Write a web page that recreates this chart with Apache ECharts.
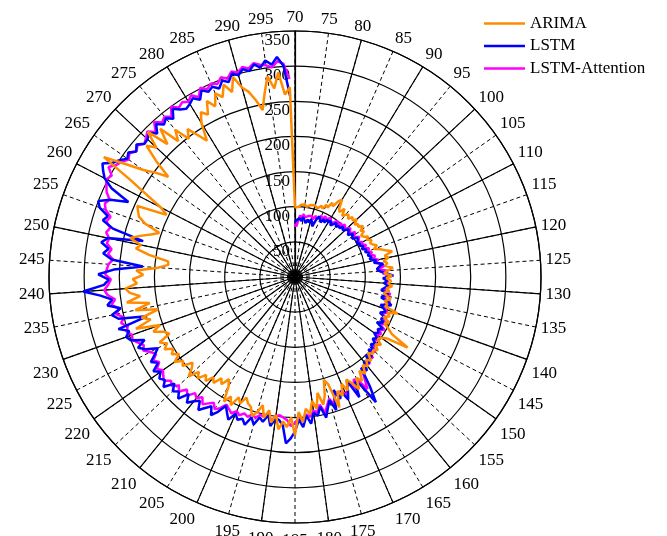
<!DOCTYPE html>
<html>
<head>
<meta charset="utf-8">
<script src="https://cdn.jsdelivr.net/npm/echarts@6/dist/echarts.min.js"></script>
<style>html,body{margin:0;padding:0;background:#fff}#c{width:667px;height:536px}</style>
</head>
<body>
<div id="c"></div>
<script>
// Angle tick labels (70 .. 295 every 5) and radius tick labels
const angleTicks = [70,75,80,85,90,95,100,105,110,115,120,125,130,135,140,145,150,155,160,165,170,175,180,185,190,195,200,205,210,215,220,225,230,235,240,245,250,255,260,265,270,275,280,285,290,295];
const radiusTicks = [50,100,150,200,250,300,350];
const seriesNames = ['ARIMA','LSTM','LSTM-Attention'];

// sample angles: 70 .. 300, one per unit
const angles = [];
for (let a = 70; a <= 300; a++) angles.push(a);

// ARIMA (70..300)
const arima = [
 99,101,100,103,102,104,101,103,105,104,
 106,103,104,108,105,112,109,118,114,124,
 129,116,112,120,110,114,117,112,118,115,
 120,113,117,115,121,114,118,111,113,119,
 115,121,117,120,125,119,128,134,143,131,
 136,128,133,129,140,132,127,138,130,137,
 133,139,131,136,128,134,140,132,137,135,
 155,141,146,138,149,143,152,160,189,158,
 150,147,156,149,157,152,156,150,161,155,
 164,158,170,162,176,168,184,171,163,178,
 166,182,173,196,160,152,174,186,168,190,
 178,196,188,207,192,225,200,214,206,218,
 198,210,193,205,188,200,207,195,192,185,
 196,189,204,193,204,182,173,185,178,190,
 184,195,188,200,192,207,196,190,204,199,
 210,198,207,201,212,205,214,196,202,216,
 204,238,214,226,200,232,210,242,222,236,
 242,225,231,216,226,195,181,182,210,230,
 224,241,228,214,203,226,238,242,246,203,
 215,240,272,321,290,264,248,230,258,282,
 270,294,262,285,255,270,248,260,245,231,
 256,270,262,280,268,285,276,292,278,298,
 280,272,258,242,265,288,270,292,260,270,
 99
];

// LSTM (70..299)
const lstm = [
 78,81,79,84,80,86,82,78,84,80,
 85,82,76,88,93,89,86,92,88,94,
 91,95,89,93,97,92,96,94,99,95,
 98,102,99,96,103,100,98,105,104,100,
 104,102,107,103,109,106,111,108,113,109,
 118,114,127,121,117,121,130,140,125,132,
 127,133,128,124,135,130,126,137,143,128,
 134,138,131,140,136,142,133,145,139,143,
 138,146,141,149,144,152,147,158,150,162,
 155,168,160,188,212,180,172,194,165,178,
 190,176,185,170,198,182,192,205,188,200,
 195,210,198,214,203,220,230,237,212,205,
 203,215,200,211,206,218,209,222,215,219,
 212,224,216,208,221,230,219,226,234,222,
 228,236,225,240,232,238,229,244,236,241,
 234,242,230,238,228,220,236,245,232,250,
 255,248,262,218,258,266,252,270,262,278,
 302,272,265,280,258,217,262,275,268,280,
 272,222,268,285,280,295,300,285,260,290,
 305,312,318,306,300,292,296,288,294,286,
 287,292,283,294,286,291,284,296,289,285,
 288,293,286,297,291,295,289,298,293,303,
 298,305,300,308,302,311,304,314,301,258
];

// LSTM-Attention (70..299)
const lstmAtt = [
 76,72,80,88,84,90,86,84,89,87,
 90,86,92,88,91,95,90,97,93,96,
 98,94,92,97,100,95,101,98,103,99,
 101,105,102,100,107,103,102,108,105,103,
 108,106,111,107,113,110,115,112,118,114,
 121,117,124,128,120,131,125,134,128,132,
 130,136,131,128,138,133,130,140,135,131,
 137,141,134,143,139,146,137,148,142,147,
 142,149,144,152,148,156,150,160,153,163,
 158,166,162,175,190,172,168,182,165,176,
 184,174,182,172,190,180,188,198,185,195,
 192,200,196,205,200,208,212,204,201,198,
 200,207,199,204,202,208,205,210,207,212,
 208,214,210,206,215,220,213,218,224,216,
 222,218,228,222,232,226,234,230,238,234,
 230,236,228,234,226,232,240,236,242,248,
 246,252,248,256,250,260,254,264,258,268,
 272,266,262,270,268,266,260,268,264,272,
 270,276,272,280,276,286,290,286,294,298,
 302,298,308,300,296,290,294,288,292,286,
 290,295,286,298,290,294,288,300,292,296,
 292,298,290,301,295,300,296,303,298,306,
 302,308,304,310,306,304,300,308,304,282
];

const FONT = '"Liberation Serif","Times New Roman",serif';
const COLORS = ['#FF8C00', '#0000FF', '#FF00FF'];
function pairs(vals){ return vals.map((v,i)=>[v, angles[i]]); }

const chart = echarts.init(document.getElementById('c'), null, {renderer:'canvas'});
const option = {
  animation: false,
  backgroundColor: '#ffffff',
  legend: {
    orient: 'vertical', left: 484, top: 15, padding: 0,
    itemWidth: 41, itemHeight: 2.5, itemGap: 5.5,
    icon: 'rect',
    textStyle: {fontFamily: FONT, fontSize: 17, color: '#000', padding: [0, 0, 0, 0]},
    data: seriesNames
  },
  polar: [
    {center: [295, 277], radius: 246},
    {center: [295, 277], radius: 246}
  ],
  angleAxis: [
    {polarIndex: 0, type: 'value', min: 70, max: 300, interval: 5,
     startAngle: 90, clockwise: true,
     axisLine: {show: true, lineStyle: {color: '#000', width: 1.2}},
     axisTick: {show: false},
     axisLabel: {show: true, margin: 5, color: '#000', fontSize: 17, fontFamily: FONT,
       padding: [4, 0, 0, 0],
       formatter: v => angleTicks.indexOf(v) >= 0 ? String(v) : ''},
     splitLine: {show: true, lineStyle: {color: '#000', width: 1, type: [4, 3]}}},
    {polarIndex: 1, type: 'value', min: 70, max: 300, interval: 10,
     startAngle: 90, clockwise: true,
     axisLine: {show: false}, axisTick: {show: false}, axisLabel: {show: false},
     splitLine: {show: true, lineStyle: {color: '#000', width: 1.2, type: 'solid'}}}
  ],
  radiusAxis: [
    {polarIndex: 0, type: 'value', min: 0, max: 350, interval: 50,
     axisLine: {show: true, lineStyle: {color: '#000', width: 1.2}},
     axisTick: {show: false},
     axisLabel: {show: true, color: '#000', fontSize: 17, fontFamily: FONT, margin: 5,
       verticalAlign: 'top', padding: [1, 0, 0, 0],
       formatter: v => radiusTicks.indexOf(v) >= 0 ? String(v) : ''},
     splitLine: {show: true, lineStyle: {color: '#000', width: 1.2}}},
    {polarIndex: 1, type: 'value', min: 0, max: 350, show: false}
  ],
  series: [
    {name: seriesNames[0], type: 'line', coordinateSystem: 'polar', polarIndex: 0,
     symbol: 'none', z: 5, lineStyle: {color: COLORS[0], width: 2.5}, itemStyle: {color: COLORS[0]},
     data: pairs(arima)},
    {name: seriesNames[1], type: 'line', coordinateSystem: 'polar', polarIndex: 0,
     symbol: 'none', z: 4, lineStyle: {color: COLORS[1], width: 2.5}, itemStyle: {color: COLORS[1]},
     data: pairs(lstm)},
    {name: seriesNames[2], type: 'line', coordinateSystem: 'polar', polarIndex: 0,
     symbol: 'none', z: 3, lineStyle: {color: COLORS[2], width: 2.5}, itemStyle: {color: COLORS[2]},
     data: pairs(lstmAtt)}
  ]
};
chart.setOption(option);
</script>
</body>
</html>
